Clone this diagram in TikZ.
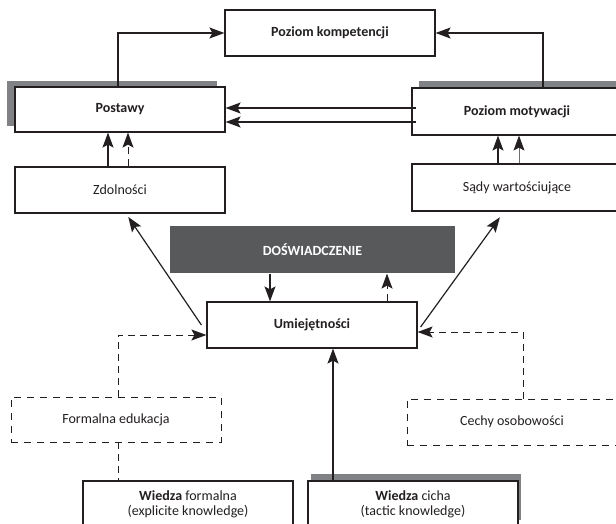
\documentclass[tikz,border=0pt]{standalone}
\usepackage{fontspec}
\setmainfont{Carlito}
\usetikzlibrary{arrows.meta,shadows}

\definecolor{linec}{HTML}{231F20}
\definecolor{shadowgray}{HTML}{808285}
\definecolor{darkbox}{HTML}{58595B}
\definecolor{thinarr}{HTML}{6D6E71}

\tikzset{
  box/.style={draw=linec, line width=1.2pt, fill=white, minimum width=210pt, minimum height=46pt,
    inner sep=0pt, align=center, text=linec, font=\fontsize{14}{15}\selectfont},
  dbox/.style={box, line width=0.9pt, dash pattern=on 7pt off 6pt},
  arr/.style={draw=linec, line width=1.2pt, -{Stealth[length=15pt,width=11pt,inset=3pt]}},
  darr/.style={arr, line width=1pt, dash pattern=on 7pt off 5pt},
  dline/.style={draw=linec, line width=1pt, dash pattern=on 7pt off 5pt},
  shadowL/.style={drop shadow={shadow xshift=-8pt, shadow yshift=6pt, fill=shadowgray, opacity=1}},
  shadowR/.style={drop shadow={shadow xshift=7pt, shadow yshift=7pt, fill=shadowgray, opacity=1}},
}

\begin{document}
\begin{tikzpicture}[x=1pt, y=-1pt]
    \useasboundingbox (0,0) rectangle (616,524);

    % Top row
    \node[box] (komp) at (330,33) {\textbf{Poziom kompetencji}};
    \node[box, shadowL, minimum height=45pt] (postawy) at (120,109.5) {\textbf{Postawy}};
    \node[box, shadowR, minimum height=47pt] (motyw) at (517,111.5) {\textbf{Poziom motywacji}};

    % Second row
    \node[box] (zdoln) at (120,190) {Zdolności};
    \node[box, minimum height=47pt] (sady) at (517,187.5) {Sądy wartościujące};

    % Middle
    \node[box, draw=none, fill=darkbox, text=white, minimum width=285pt, minimum height=47pt] (dosw) at (312.5,249.5) {\textbf{DOŚWIADCZENIE}};
    \node[box] (umiej) at (312,325) {\textbf{Umiejętności}};

    % Lower row
    \node[dbox, minimum height=45pt] (formal) at (116,419.5) {Formalna edukacja};
    \node[dbox] (cechy) at (512,422) {Cechy osobowości};
    \node[box] (wformal) at (188,504) {\textbf{Wiedza} formalna\\(explicite knowledge)};
    \node[box, drop shadow={shadow xshift=3pt, shadow yshift=7pt, fill=shadowgray, opacity=1}] (wcicha) at (413,504) {\textbf{Wiedza} cicha\\(tactic knowledge)};

    % Lines to the top box
    \draw[arr] ([xshift=-2pt]postawy.north) |- (komp.west);
    \draw[arr] ([xshift=26pt]motyw.north) |- (komp.east);

    % Motywacja to postawy
    \draw[arr, shorten <=-5pt] ([yshift=3.5pt]motyw.west) -- ([yshift=3.5pt]motyw.west -| postawy.east);
    \draw[arr, shorten <=-5pt] ([yshift=-10.5pt]motyw.west) -- ([yshift=-10.5pt]motyw.west -| postawy.east);

    % Into postawy and motywacja from below
    \draw[arr] ([xshift=-12pt]zdoln.north) -- ([xshift=-12pt]postawy.south);
    \draw[darr] ([xshift=8pt]zdoln.north) -- ([xshift=8pt]postawy.south);
    \draw[arr] ([xshift=-19pt]sady.north) -- ([xshift=-19pt]motyw.south);
    \draw[draw=thinarr, line width=0.8pt, -{Stealth[length=15pt,width=11pt,inset=3pt,color=linec]}]
      ([xshift=2pt]sady.north) -- ([xshift=2pt]motyw.south);

    % Diagonals from umiejetnosci
    \draw[arr, shorten >=4pt] ([xshift=-5pt]umiej.west) -- ([xshift=6pt]zdoln.south);
    \draw[arr, shorten >=7pt] ([xshift=3pt,yshift=-2pt]umiej.east) -- ([xshift=-13pt]sady.south);

    % Doswiadczenie and umiejetnosci
    \draw[arr] ([xshift=-42.5pt]dosw.south) -- ([xshift=-42.5pt]dosw.south |- umiej.north);
    \draw[darr] ([xshift=75pt]umiej.north) -- ([xshift=75pt]umiej.north |- dosw.south);

    % Dashed feeds into umiejetnosci
    \draw[darr] ([xshift=2pt]formal.north) |- ([yshift=-10pt]umiej.west);
    \draw[darr] ([xshift=11pt]cechy.north) |- ([yshift=-7pt]umiej.east);
    \draw[dline] ([xshift=2pt]formal.south) -- ([xshift=2pt]formal.south |- wformal.north);

    % Wiedza cicha up to umiejetnosci
    \draw[arr] ([xshift=21pt]umiej.south |- wcicha.north) -- ([xshift=21pt]umiej.south);
\end{tikzpicture}
\end{document}
